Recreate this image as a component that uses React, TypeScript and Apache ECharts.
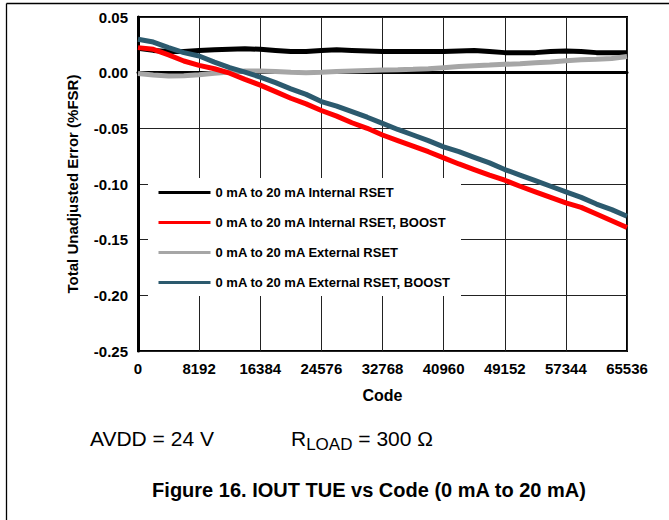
import React, { useEffect, useRef } from "react";
import * as echarts from "echarts";

const CODES = [
  0, 2048, 4096, 6144, 8192, 10240, 12288, 14336, 16384, 18432, 20480, 22528,
  24576, 26624, 28672, 30720, 32768, 34816, 36864, 38912, 40960, 43008, 45056,
  47104, 49152, 51200, 53248, 55296, 57344, 59392, 61440, 63488, 65536,
];

const INTERNAL_RSET = [
  0.022, 0.02, 0.019, 0.019, 0.02, 0.0205, 0.021, 0.0215, 0.021, 0.02, 0.019,
  0.019, 0.02, 0.0205, 0.02, 0.0195, 0.019, 0.019, 0.019, 0.019, 0.019, 0.0195,
  0.02, 0.019, 0.018, 0.018, 0.018, 0.019, 0.0195, 0.019, 0.018, 0.018, 0.018,
];

const INTERNAL_RSET_BOOST = [
  0.0225, 0.021, 0.016, 0.0105, 0.0065, 0.0035, -0.0005, -0.006, -0.0112,
  -0.017, -0.023, -0.028, -0.034, -0.039, -0.045, -0.05, -0.056, -0.061,
  -0.066, -0.071, -0.0765, -0.082, -0.087, -0.092, -0.0966, -0.102, -0.107,
  -0.112, -0.117, -0.121, -0.127, -0.133, -0.139,
];

const EXTERNAL_RSET = [
  -0.0007, -0.002, -0.003, -0.0028, -0.0018, -0.0005, 0.0007, 0.0015, 0.0015,
  0.001, 0.0003, 0.0, 0.0003, 0.001, 0.0015, 0.002, 0.0025, 0.0027, 0.003,
  0.0035, 0.0045, 0.0055, 0.0062, 0.0068, 0.0075, 0.008, 0.0088, 0.0095,
  0.0108, 0.0115, 0.012, 0.0128, 0.0145,
];

const EXTERNAL_RSET_BOOST = [
  0.03, 0.0275, 0.0225, 0.018, 0.015, 0.0095, 0.0045, 0.0005, -0.004, -0.009,
  -0.0145, -0.0195, -0.026, -0.03, -0.035, -0.04, -0.0455, -0.051, -0.056,
  -0.061, -0.0666, -0.071, -0.076, -0.081, -0.087, -0.092, -0.097, -0.102,
  -0.107, -0.112, -0.118, -0.123, -0.129,
];

const SERIES_NAMES = [
  "0 mA to 20 mA Internal RSET",
  "0 mA to 20 mA Internal RSET, BOOST",
  "0 mA to 20 mA External RSET",
  "0 mA to 20 mA External RSET, BOOST",
];

const FONT = '"Liberation Sans", Arial, sans-serif';

function measure(text: string, font: string): number {
  const c = document.createElement("canvas").getContext("2d");
  if (!c) return text.length * 10;
  c.font = font;
  return c.measureText(text).width;
}

export default function App() {
  const ref = useRef<HTMLDivElement>(null);

  useEffect(() => {
    if (!ref.current) return;
    const chart = echarts.init(ref.current, null, { renderer: "svg" });

    const pair = (vals: number[]) => CODES.map((c, i) => [c, vals[i]]);
    const colors = ["#000000", "#ff0000", "#a6a6a6", "#2c5a6e"];
    const datasets = [
      INTERNAL_RSET,
      INTERNAL_RSET_BOOST,
      EXTERNAL_RSET,
      EXTERNAL_RSET_BOOST,
    ];
    const zs = [2, 4, 3, 5];

    const rX = 291;
    const mainFont = `21px ${FONT}`;
    const subFont = `17px ${FONT}`;
    const wR = measure("R", mainFont);
    const wSub = measure("LOAD", subFont);

    chart.setOption({
      animation: false,
      backgroundColor: "#ffffff",
      grid: {
        left: 138,
        right: 42,
        top: 17,
        bottom: 169,
        show: true,
        borderColor: "#000",
        borderWidth: 2,
        backgroundColor: "transparent",
      },
      legend: {
        orient: "vertical",
        left: 148,
        top: 178,
        padding: [8, 10, 7, 9],
        backgroundColor: "#ffffff",
        itemWidth: 52,
        itemHeight: 14,
        itemGap: 17,
        lineStyle: { width: 3 },
        itemStyle: { opacity: 0, borderWidth: 0 },
        textStyle: {
          fontFamily: FONT,
          fontSize: 13,
          fontWeight: "bold",
          color: "#000",
        },
        data: SERIES_NAMES,
      },
      xAxis: {
        type: "value",
        min: 0,
        max: 65536,
        interval: 8192,
        name: "Code",
        nameLocation: "middle",
        nameGap: 36,
        nameTextStyle: {
          fontFamily: FONT,
          fontSize: 16,
          fontWeight: "bold",
          color: "#000",
        },
        axisLine: { show: true, lineStyle: { color: "#000", width: 3 } },
        axisTick: { show: false },
        axisLabel: {
          fontFamily: FONT,
          fontSize: 15,
          fontWeight: "bold",
          color: "#000",
          margin: 10,
          formatter: (v: number) => String(Math.round(v)),
        },
        splitLine: { show: true, lineStyle: { color: "#222", width: 1 } },
      },
      yAxis: {
        type: "value",
        min: -0.25,
        max: 0.05,
        interval: 0.05,
        name: "Total Unadjusted Error (%FSR)",
        nameLocation: "middle",
        nameGap: 58,
        nameTextStyle: {
          fontFamily: FONT,
          fontSize: 15,
          fontWeight: "bold",
          color: "#000",
        },
        axisLine: { show: true, lineStyle: { color: "#000", width: 3 } },
        axisTick: { show: false },
        axisLabel: {
          fontFamily: FONT,
          fontSize: 15,
          fontWeight: "bold",
          color: "#000",
          margin: 10,
          formatter: (v: number) => (Math.abs(v) < 1e-9 ? "0.00" : v.toFixed(2)),
        },
        splitLine: { show: true, lineStyle: { color: "#222", width: 1 } },
      },
      series: SERIES_NAMES.map((name, i) => ({
        name,
        type: "line",
        data: pair(datasets[i]),
        symbol: "none",
        smooth: false,
        z: zs[i],
        color: colors[i],
        lineStyle: { color: colors[i], width: 5 },
      })),
      graphic: [
        {
          type: "line",
          shape: { x1: 6.5, y1: 3.5, x2: 669, y2: 3.5 },
          style: { stroke: "#000", lineWidth: 1.3 },
        },
        {
          type: "line",
          shape: { x1: 6.5, y1: 3.5, x2: 6.5, y2: 520 },
          style: { stroke: "#000", lineWidth: 1.3 },
        },
        {
          type: "text",
          x: 90,
          y: 438,
          style: {
            text: "AVDD = 24 V",
            font: mainFont,
            fill: "#000",
            verticalAlign: "middle",
            align: "left",
          },
        },
        {
          type: "text",
          x: rX,
          y: 438,
          style: {
            text: "R",
            font: mainFont,
            fill: "#000",
            verticalAlign: "middle",
            align: "left",
          },
        },
        {
          type: "text",
          x: rX + wR,
          y: 444,
          style: {
            text: "LOAD",
            font: subFont,
            fill: "#000",
            verticalAlign: "middle",
            align: "left",
          },
        },
        {
          type: "text",
          x: rX + wR + wSub,
          y: 438,
          style: {
            text: " = 300 Ω",
            font: mainFont,
            fill: "#000",
            verticalAlign: "middle",
            align: "left",
          },
        },
        {
          type: "text",
          x: 369,
          y: 490,
          style: {
            text: "Figure 16. IOUT TUE vs Code (0 mA to 20 mA)",
            font: `bold 20px ${FONT}`,
            fill: "#000",
            verticalAlign: "middle",
            align: "center",
          },
        },
      ],
    });

    return () => chart.dispose();
  }, []);

  return (
    <div
      ref={ref}
      style={{ position: "absolute", left: 0, top: 0, width: 669, height: 520 }}
    />
  );
}
